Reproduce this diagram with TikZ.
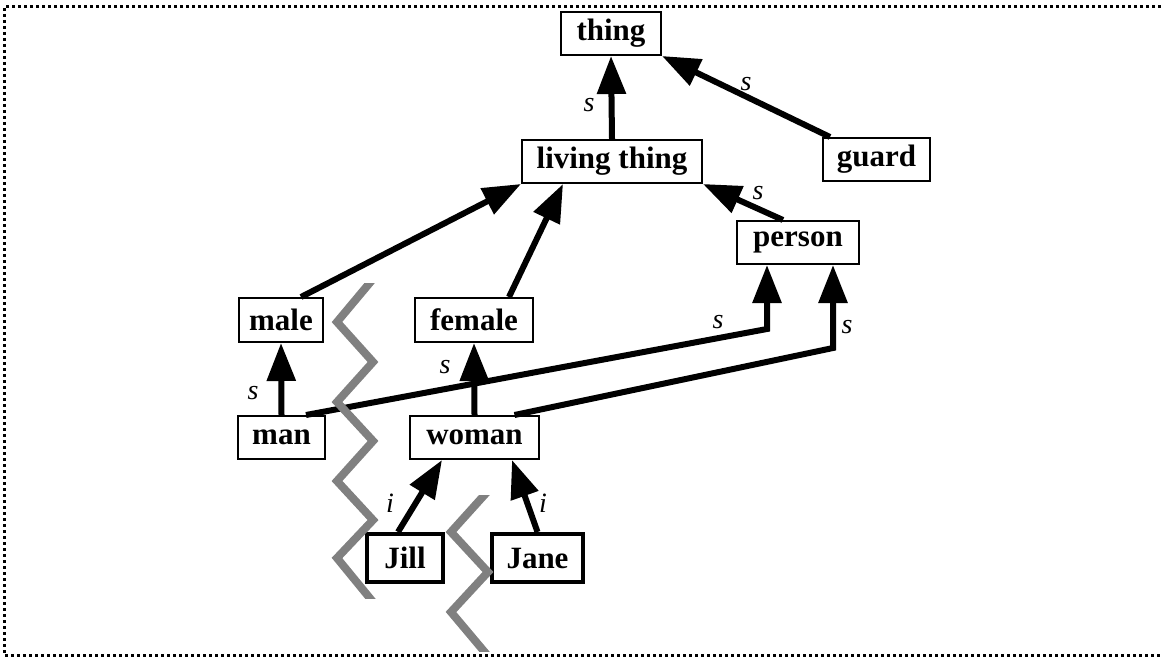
\documentclass[tikz,border=0pt]{standalone}
\usepackage{fontspec}
\setmainfont{Liberation Serif}
\usetikzlibrary{arrows.meta}
\begin{document}
\begin{tikzpicture}[x=1pt,y=-1pt,
  box/.style={draw,line width=2pt,inner sep=0pt,minimum height=43pt,
    font=\fontsize{31}{31}\selectfont\bfseries},
  inst/.style={box,line width=4pt,minimum height=48pt},
  link/.style={line width=6pt,-{Triangle[length=38pt,width=28pt]}},
  lbl/.style={font=\fontsize{28}{28}\selectfont\itshape,inner sep=0pt},
  zig/.style={draw=black!50,line width=8pt,line join=miter}]
\useasboundingbox (0,0) rectangle (1161,658);

% frame (open on the right)
\draw[line width=3pt,dash pattern=on 3pt off 3pt] (1161,7) -- (4,7) -- (4,655) -- (1161,655);

% concept and instance boxes
\node[box,minimum width=100pt] (thing)  at (611,33.5)  {thing};
\node[box,minimum width=180pt] (living) at (612,161.5) {living thing};
\node[box,minimum width=107pt] (guard)  at (876.5,159.5) {guard};
\node[box,minimum width=122pt] (person) at (798,242.5) {person};
\node[box,minimum width=84pt,minimum height=44pt]  (male)   at (281,320) {male};
\node[box,minimum width=118pt,minimum height=44pt] (female) at (474,320) {female};
\node[box,minimum width=87pt]  (man)    at (281.5,437.5) {man};
\node[box,minimum width=129pt] (woman)  at (474.5,437.5) {woman};
\node[inst,minimum width=76pt] (jill) at (405,558) {Jill};
\node[inst,minimum width=91pt] (jane) at (537.5,558) {Jane};

% bend points of the two long subtype links
\coordinate (mp) at (767,329);
\coordinate (wp) at (833,348);

% subtype links
\draw[link] (living.north) -- (thing.south);
\draw[link] ([xshift=-46.5pt]guard.north) -- (thing.south east);
\draw[link] ([xshift=20pt]male.north) -- (living.south west);
\draw[link] ([xshift=35pt]female.north) -- ([xshift=-49pt]living.south);
\draw[link] ([xshift=-15pt]person.north) -- (living.south east);
\draw[link] (man.north) -- (male.south);
\draw[link] (woman.north) -- (female.south);
\draw[link] ([xshift=24.5pt]man.north) -- (mp) -- ([xshift=-31pt]person.south);
\draw[link] ([xshift=40pt]woman.north) -- (wp) -- ([xshift=35pt]person.south);

% instance links
\draw[link] ([xshift=-7pt]jill.north) -- ([xshift=-32.5pt]woman.south);
\draw[link] (jane.north) -- ([xshift=37.5pt]woman.south);

% link labels
\node[lbl] (s1) at (589,105) {s};
\node[lbl] (s2) at (746,84) {s};
\node[lbl] (s3) at (758,193) {s};
\node[lbl] (s4) at (253,393) {s};
\node[lbl] (s5) at (445,367) {s};
\node[lbl] (s6) at (718,322) {s};
\node[lbl] (s7) at (847,327) {s};
\node[lbl] (i1) at (390,503) {i};
\node[lbl] (i2) at (543,503) {i};

% grey zigzag separators
\begin{scope}
  \clip (300,283) rectangle (420,598);
  \draw[zig] (373,279) -- (337,322) -- (373,362) -- (337,402) -- (373,441)
    -- (337,481) -- (373,520) -- (337,558) -- (373,602);
\end{scope}
\begin{scope}
  \clip (420,495) rectangle (520,651);
  \draw[zig] (488,491) -- (451,532) -- (488,572) -- (451,612) -- (488,656);
\end{scope}
\end{tikzpicture}
\end{document}
